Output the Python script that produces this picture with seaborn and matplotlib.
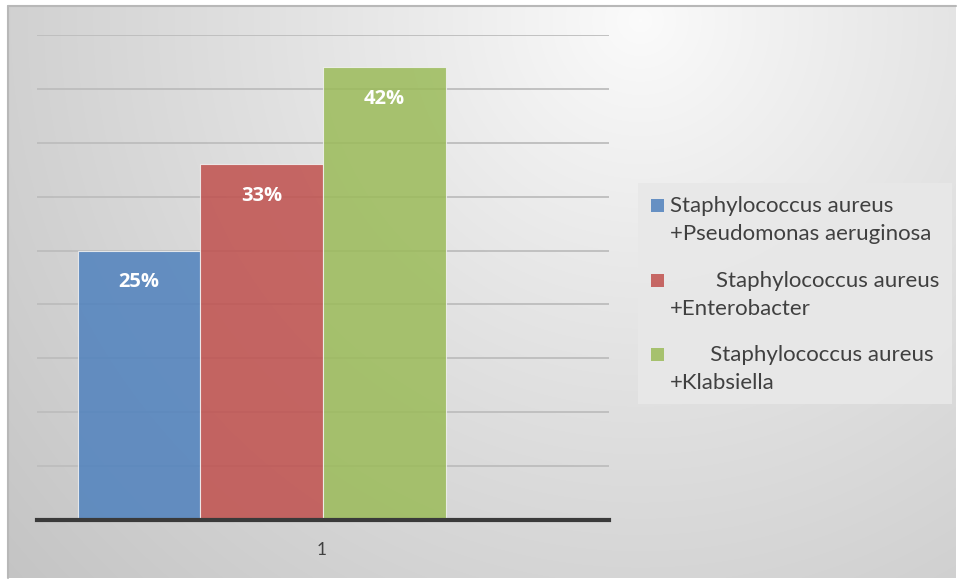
import numpy as np
import pandas as pd
import matplotlib
matplotlib.use("Agg")
import matplotlib.pyplot as plt
from matplotlib.patches import Rectangle
import seaborn as sns

# Data
categories = ["1", "1", "1"]
series = [
    "Staphylococcus aureus\n+Pseudomonas aeruginosa",
    "        Staphylococcus aureus\n+Enterobacter",
    "       Staphylococcus aureus\n+Klabsiella",
]
values = [25, 33, 42]
value_labels = ["25%", "33%", "42%"]
colors = ["#4f81bd", "#c0504d", "#9bbb59"]

df = pd.DataFrame({"cat": categories, "series": series, "value": values})

sns.set_theme(style="white")
plt.rcParams["font.family"] = ["Lato", "DejaVu Sans"]

W, H = 957, 580
fig = plt.figure(figsize=(W / 100, H / 100), dpi=100)
fig.patch.set_facecolor("white")

# Radial grey gradient behind the chart area
bg = fig.add_axes([0, 0, 1, 1], zorder=0)
x0, x1, y0, y1 = 8, 956, 6, 578
xx, yy = np.meshgrid(np.arange(x0, x1), np.arange(y0, y1))
d = np.hypot(xx - 640, yy - 20)
d = d / d.max()
shade = 0.985 - 0.215 * np.clip(d, 0, 1) ** 0.9
img = np.dstack([shade, shade, shade])
bg.imshow(img, extent=(x0, x1, H - y1, H - y0), origin="upper", aspect="auto",
          interpolation="bilinear")
bg.plot([x0, x1], [H - y0, H - y0], color="#b8b8b8", lw=1.5)
bg.plot([x0, x0], [H - y1, H - y0], color="#b8b8b8", lw=1.5)
bg.set_xlim(0, W)
bg.set_ylim(0, H)
bg.axis("off")

# Main plotting axes
ax_l, ax_r = 37, 609
ax_b, ax_t = 520, 35
ax = fig.add_axes([ax_l / W, (H - ax_b) / H, (ax_r - ax_l) / W, (ax_b - ax_t) / H], zorder=1)
ax.patch.set_alpha(0)

for y in range(5, 50, 5):
    ax.axhline(y, color="#bdbdbd", lw=1.3, zorder=0)

sns.barplot(data=df, x="cat", y="value", hue="series", palette=colors,
            saturation=1, width=0.643, ax=ax, alpha=0.85, edgecolor="#f2f2f2",
            linewidth=0.8, zorder=2, legend=False)

for cont, lab in zip(ax.containers, value_labels):
    ax.bar_label(cont, labels=[lab], label_type="edge", padding=-30,
                 color="white", fontsize=14.5, fontweight="bold",
                 family=["Open Sans", "DejaVu Sans"])

ax.set_ylim(0, 45)
ax.set_xlim(-0.393, 0.607)
ax.set_xticks([0.105], labels=["1"])
ax.set_yticks([])
ax.set_xlabel("")
ax.set_ylabel("")
ax.tick_params(axis="x", length=0, pad=16, labelsize=12.5, labelcolor="#404040")
for s in ["top", "right", "left"]:
    ax.spines[s].set_visible(False)
ax.spines["bottom"].set_color("#3a3a3a")
ax.spines["bottom"].set_linewidth(3)
ax.spines["bottom"].set_zorder(5)

# Legend panel at right, marker aligned with the first line of each entry
lg = fig.add_axes([0, 0, 1, 1], zorder=3)
lg.set_xlim(0, W)
lg.set_ylim(H, 0)
lg.axis("off")
lg.add_patch(Rectangle((638, 183), 314, 221, facecolor="#e8e8e8", edgecolor="none", alpha=0.92))
entry_top = [205, 280, 354]
for yc, lab, col in zip(entry_top, series, colors):
    lg.add_patch(Rectangle((651, yc - 6), 13, 13, facecolor=col, alpha=0.85,
                           edgecolor="none"))
    lg.text(670, yc - 9, lab, ha="left", va="top", fontsize=16,
            color="#404040", linespacing=1.5)

fig.savefig("out.png", dpi=100)
